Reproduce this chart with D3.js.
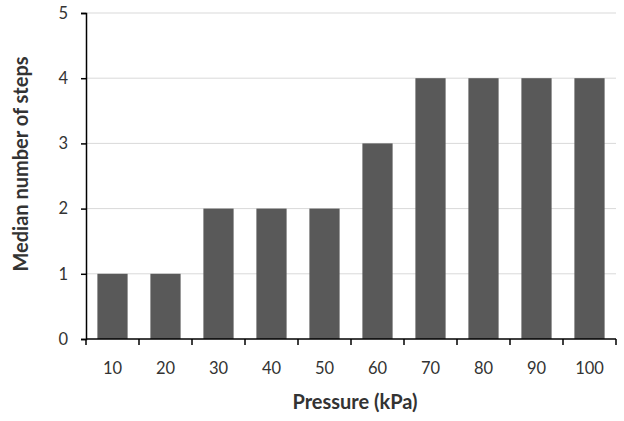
<!DOCTYPE html>
<html><head><meta charset="utf-8">
<script src="https://cdn.jsdelivr.net/npm/d3@7"></script>
<style>body{margin:0;background:#fff}svg{display:block}text{font-family:Lato,"Open Sans",sans-serif;fill:#333}</style>
</head><body>
<svg id="c" width="624" height="421"></svg>
<script>
const categories = ["10","20","30","40","50","60","70","80","90","100"];
const values = [1,1,2,2,2,3,4,4,4,4];
const yTicks = [0,1,2,3,4,5];

const svg = d3.select("#c");
const m = {l:86, r:8, t:13, b:82};
const W = 624, H = 421;
const x = d3.scaleBand().domain(categories).range([m.l, W - m.r]).paddingInner(0.43).paddingOuter(0.215);
const xb = d3.scaleBand().domain(categories).range([m.l, W - m.r]);
const y = d3.scaleLinear().domain([0,5]).range([H - m.b, m.t]);

svg.append("g").selectAll("line").data(yTicks.filter(d=>d>0)).join("line")
  .attr("x1", m.l).attr("x2", W - m.r).attr("y1", d=>y(d)).attr("y2", d=>y(d))
  .attr("stroke", "#d9d9d9").attr("stroke-width", 1);

svg.append("g").selectAll("rect").data(values).join("rect")
  .attr("x", (d,i)=>x(categories[i])).attr("width", x.bandwidth())
  .attr("y", d=>y(d)).attr("height", d=>y(0)-y(d))
  .attr("fill", "#595959");

const ya = svg.append("g").attr("transform", `translate(${m.l},0)`)
  .call(d3.axisLeft(y).tickValues(yTicks).tickSize(5).tickPadding(13).tickFormat(d3.format("d")));
ya.select(".domain").attr("stroke","#000").attr("stroke-width",1.5);
ya.selectAll(".tick line").attr("stroke","#000").attr("stroke-width",1.5);
ya.selectAll("text").attr("font-size", 16.5).style("font-family","Lato,'Open Sans',sans-serif").attr("fill","#404040");

const xg = svg.append("g").attr("transform", `translate(0,${y(0)})`);
xg.append("line").attr("x1", m.l).attr("x2", W - m.r).attr("stroke","#000").attr("stroke-width",1.5);
const bounds = categories.map(c=>xb(c)).concat([W - m.r]);
xg.selectAll("line.t").data(bounds).join("line").attr("class","t")
  .attr("x1", d=>d).attr("x2", d=>d).attr("y1",0).attr("y2",6)
  .attr("stroke","#000").attr("stroke-width",1.5);
xg.selectAll("text").data(categories).join("text")
  .attr("x", d=>xb(d)+xb.bandwidth()/2).attr("y", 35)
  .attr("text-anchor","middle").attr("font-size",16.5).attr("fill","#404040").text(d=>d);

svg.append("text").attr("x", 355).attr("y", 409)
  .attr("text-anchor","middle").attr("font-size",20).attr("font-weight","bold").attr("fill","#000")
  .text("Pressure (kPa)");
svg.append("text").attr("transform", `translate(28,164) rotate(-90)`)
  .attr("text-anchor","middle").attr("font-size",20).attr("font-weight","bold").attr("fill","#000")
  .text("Median number of steps");
</script>
</body></html>
